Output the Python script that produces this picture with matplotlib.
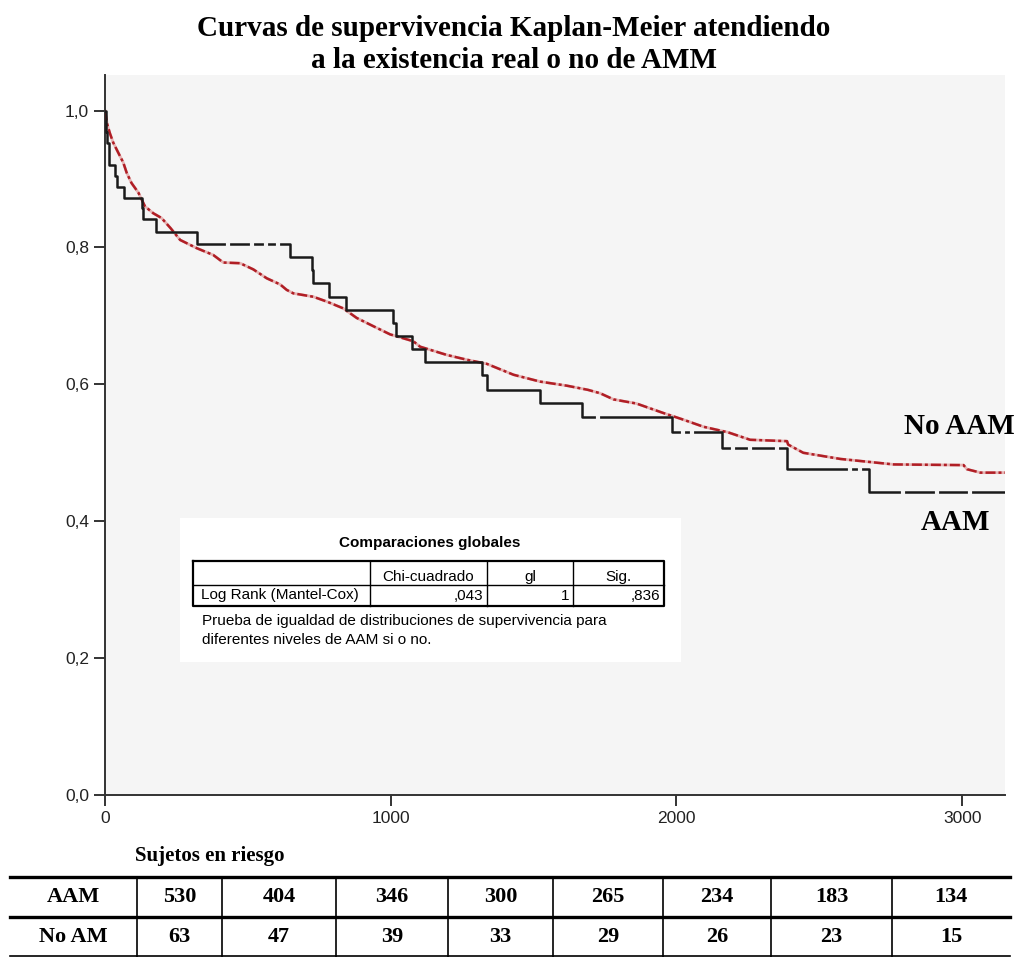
import matplotlib.pyplot as plt
from matplotlib.lines import Line2D

# Kaplan-Meier step points (time in days, survival proportion)
aam_t = [0, 4, 8, 13, 35, 41, 68, 128, 133, 178, 322, 648, 724, 727, 783, 843,
         1008, 1020, 1074, 1120, 1319, 1336, 1523, 1669, 1984, 2159, 2387, 2673, 3150]
aam_s = [1.0, 0.968, 0.952, 0.921, 0.905, 0.889, 0.873, 0.857, 0.841, 0.822, 0.805,
         0.786, 0.767, 0.748, 0.728, 0.709, 0.690, 0.670, 0.652, 0.632, 0.613, 0.592,
         0.573, 0.553, 0.531, 0.507, 0.477, 0.443, 0.443]
# censored times on the black curve
aam_cens = [430, 514, 564, 607, 1726, 2024, 2055, 2199, 2258, 2352, 2608, 2643,
            2794, 2913, 3029]

# the large group has many small steps; its curve is traced through these points
noaam_t = [0, 8, 17, 29, 47, 64, 76, 93, 117, 140, 169, 198, 230, 263, 321, 379,
           414, 473, 519, 566, 613, 636, 659, 729, 776, 834, 881, 939, 998, 1079,
           1103, 1196, 1266, 1336, 1430, 1523, 1617, 1690, 1733, 1780, 1860, 1955,
           2020, 2095, 2180, 2258, 2387, 2391, 2444, 2574, 2760, 3005, 3017, 3064,
           3150]
noaam_s = [1.0, 0.980, 0.967, 0.953, 0.938, 0.924, 0.909, 0.894, 0.880, 0.860,
           0.850, 0.843, 0.828, 0.811, 0.799, 0.789, 0.778, 0.777, 0.768, 0.755,
           0.746, 0.738, 0.733, 0.728, 0.721, 0.711, 0.697, 0.685, 0.673, 0.663,
           0.655, 0.643, 0.636, 0.630, 0.614, 0.604, 0.598, 0.592, 0.587, 0.578,
           0.572, 0.558, 0.549, 0.538, 0.530, 0.519, 0.517, 0.512, 0.500, 0.491,
           0.483, 0.482, 0.476, 0.471, 0.471]

# log-rank test summary
test_cols = ['Chi-cuadrado', 'gl', 'Sig.']
test_name = 'Log Rank (Mantel-Cox)'
test_vals = [',043', '1', ',836']

# subjects at risk
risk_groups = ['AAM', 'No AM']
risk_aam = [530, 404, 346, 300, 265, 234, 183, 134]
risk_noam = [63, 47, 39, 33, 29, 26, 23, 15]

W, H = 1018, 957
bg = '#f5f5f5'
fig = plt.figure(figsize=(W / 100, H / 100), dpi=100)

ax = fig.add_axes([105 / W, 162 / H, 900 / W, 720 / H])
ax.set_facecolor(bg)
ax.set_xlim(0, 3150)
ax.set_ylim(0, 1.052)

# red curve: pale underlay with a broken red line on top
ax.plot(noaam_t, noaam_s, color='#e6b4b4', lw=2.0, zorder=2)
ax.plot(noaam_t, noaam_s, color='#b01e25', lw=1.8,
        linestyle=(0, (4, 1.2, 1.2, 1.2)), zorder=3)

# black curve with small gaps where cases are censored
ax.step(aam_t, aam_s, where='post', color='#1a1a1a', lw=1.8, zorder=4)
cens_y = [aam_s[max(i for i, t in enumerate(aam_t) if t <= c)] for c in aam_cens]
ax.plot(aam_cens, cens_y, linestyle='none', marker='|', markersize=5,
        markeredgewidth=3, color=bg, zorder=5)

ax.set_xticks([0, 1000, 2000, 3000])
ax.set_yticks([0, 0.2, 0.4, 0.6, 0.8, 1.0])
ax.set_yticklabels(['0,0', '0,2', '0,4', '0,6', '0,8', '1,0'])
for s in ['top', 'right']:
    ax.spines[s].set_visible(False)
for s in ['left', 'bottom']:
    ax.spines[s].set_color('#333333')
    ax.spines[s].set_linewidth(1.4)
ax.tick_params(axis='both', length=8, width=1.4, color='#333333',
               labelsize=12.5, labelcolor='#222222')
for lab in ax.get_xticklabels() + ax.get_yticklabels():
    lab.set_family('Liberation Sans')

ax.text(3185, 0.538, 'No AAM', ha='right', va='center', fontsize=21,
        fontweight='bold', family='Liberation Serif', clip_on=False)
ax.text(3098, 0.398, 'AAM', ha='right', va='center', fontsize=21,
        fontweight='bold', family='Liberation Serif')

fig.text(514 / W, 1 - 29 / H, 'Curvas de supervivencia Kaplan-Meier atendiendo',
         ha='center', va='center', fontsize=21, fontweight='bold',
         family='Liberation Serif')
fig.text(514 / W, 1 - 61 / H, 'a la existencia real o no de AMM',
         ha='center', va='center', fontsize=21, fontweight='bold',
         family='Liberation Serif')

# overlay in pixel coordinates for the inset box and the risk table
ov = fig.add_axes([0, 0, 1, 1], facecolor='none')
ov.set_xlim(0, W)
ov.set_ylim(H, 0)
ov.axis('off')

ov.add_patch(plt.Rectangle((180, 518), 501, 144, facecolor='white',
                           edgecolor='none', zorder=1))
sans = 'Liberation Sans'
fs = 11
ov.text(430, 543, 'Comparaciones globales', ha='center', va='center',
        fontsize=fs, fontweight='bold', family=sans, zorder=3)
tx0, tx1 = 193, 664
ty0, ty1, ty2 = 561, 585, 606
col_x = [tx0, 370, 487, 573, tx1]
ov.plot([tx0, tx1, tx1, tx0, tx0], [ty0, ty0, ty2, ty2, ty0], color='black',
        lw=1.6, zorder=3)
ov.plot([tx0, tx1], [ty1, ty1], color='black', lw=1.0, zorder=3)
for cx in col_x[1:-1]:
    ov.plot([cx, cx], [ty0, ty2], color='black', lw=1.0, zorder=3)
for i, name in enumerate(test_cols):
    ov.text((col_x[i + 1] + col_x[i + 2]) / 2, ty1 - 1, name, ha='center',
            va='bottom', fontsize=fs, family=sans, zorder=3)
    ov.text(col_x[i + 2] - 4, (ty1 + ty2) / 2, test_vals[i], ha='right',
            va='center', fontsize=fs, family=sans, zorder=3)
ov.text(tx0 + 8, (ty1 + ty2) / 2, test_name, ha='left', va='center',
        fontsize=fs, family=sans, zorder=3)
ov.text(tx0 + 9, 621, 'Prueba de igualdad de distribuciones de supervivencia para',
        ha='left', va='center', fontsize=fs, family=sans, zorder=3)
ov.text(tx0 + 9, 640, 'diferentes niveles de AAM si o no.',
        ha='left', va='center', fontsize=fs, family=sans, zorder=3)

# risk table
serif = 'Liberation Serif'
ov.text(135, 856, 'Sujetos en riesgo', ha='left', va='center', fontsize=15,
        fontweight='bold', family=serif)
edges = [10, 137, 222, 336, 448, 553, 663, 771, 892, 1010]
rows_y = [877, 917, 957]
for ry in rows_y[:2]:
    ov.add_line(Line2D([edges[0], edges[-1]], [ry, ry], color='black', lw=2.4))
ov.add_line(Line2D([edges[0], edges[-1]], [956, 956], color='black', lw=1.2))
for ex in edges[1:-1]:
    ov.add_line(Line2D([ex, ex], [rows_y[0], rows_y[2]], color='black', lw=1.2))
for r, (grp, vals) in enumerate(zip(risk_groups, [risk_aam, risk_noam])):
    cy = (rows_y[r] + rows_y[r + 1]) / 2
    ov.text((edges[0] + edges[1]) / 2, cy, grp, ha='center', va='center',
            fontsize=16, fontweight='bold', family=serif)
    for j, v in enumerate(vals):
        ov.text((edges[j + 1] + edges[j + 2]) / 2, cy, str(v), ha='center',
                va='center', fontsize=16, fontweight='bold', family=serif)

fig.savefig('out.png', dpi=100)
